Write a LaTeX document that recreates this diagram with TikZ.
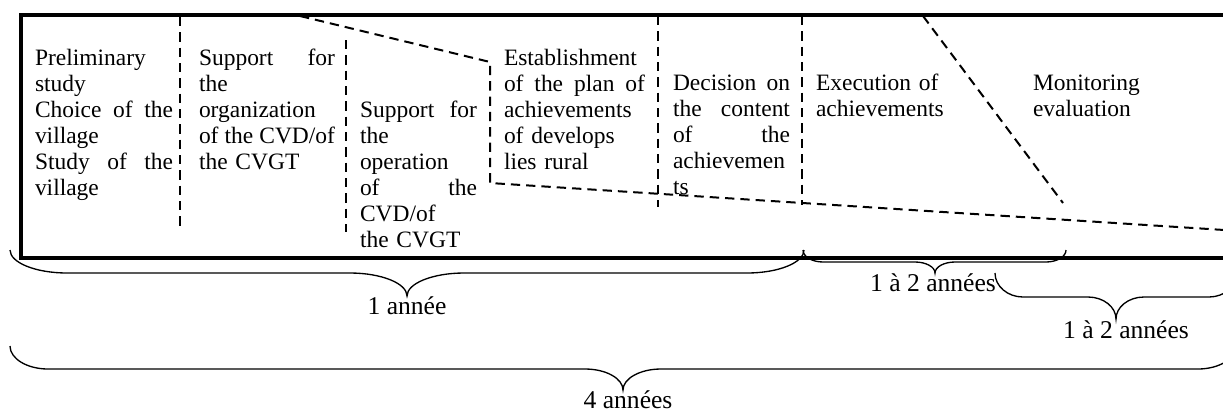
\documentclass[tikz,border=0pt]{standalone}
\usepackage{fontspec}
\setmainfont{Liberation Serif}
\tikzset{
  frame/.style={line width=3.4pt, line join=miter},
  sep/.style={line width=1.5pt, dash pattern=on 7pt off 4.5pt},
  col/.style={font=\fontsize{17.6}{19.5}\selectfont, inner sep=0pt, outer sep=0pt, anchor=base west, align=left},
  lab/.style={font=\fontsize{19.2}{21}\selectfont, inner sep=0pt, anchor=base},
  bracestyle/.style={line width=1pt},
}
\newcommand\js{\nobreak\hfill\nobreak}
% x1 x2 xt ye ym yt r
\newcommand\mybrace[7]{%
  \pgfmathsetmacro\brA{#4+0.55*(#5-#4)}%
  \pgfmathsetmacro\brB{#1+0.45*#7}%
  \pgfmathsetmacro\brC{#1+#7}%
  \pgfmathsetmacro\brD{#3-#7}%
  \pgfmathsetmacro\brE{#3-0.45*#7}%
  \pgfmathsetmacro\brF{#5+0.45*(#6-#5)}%
  \pgfmathsetmacro\brG{#3+0.45*#7}%
  \pgfmathsetmacro\brH{#3+#7}%
  \pgfmathsetmacro\brI{#2-#7}%
  \pgfmathsetmacro\brJ{#2-0.45*#7}%
  \draw[bracestyle] (#1,#4) .. controls (#1,\brA) and (\brB,#5) .. (\brC,#5)
    -- (\brD,#5) .. controls (\brE,#5) and (#3,\brF) .. (#3,#6)
    .. controls (#3,\brF) and (\brG,#5) .. (\brH,#5)
    -- (\brI,#5) .. controls (\brJ,#5) and (#2,\brA) .. (#2,#4);
}
\begin{document}
\begin{tikzpicture}[x=0.75pt,y=-0.75pt]
\useasboundingbox (0,0) rectangle (1223,412);
\clip (0,0) rectangle (1223,412);
% frame
\draw[frame] (1300,15) -- (21,15) -- (21,258) -- (1300,258);
% dashed separators
\draw[sep] (180,17) -- (180,230);
\draw[sep] (346,40) -- (346,232);
\draw[sep] (300,16) -- (490,62) -- (490,183) -- (1240,231);
\draw[sep] (658,16) -- (658,207);
\draw[sep] (802,16) -- (802,205);
\draw[sep] (923,16) -- (1063,203);
% texts
\node[col, text width=103.5pt] (c1) at (35,65) {Preliminary\\study\\Choice\js of\js the\\village\\Study\js of\js the\\village};
\node[col, text width=102pt] (c2) at (199,65) {Support\js for\\the\\organization\\of\js the\js CVD/of\\the CVGT};
\node[col, text width=87.75pt] (c3) at (360,117) {Support\js for\\the\\operation\\of\js the\\CVD/of\\the CVGT};
\node[col, text width=105.75pt] (c4) at (504,65) {Establishment\\of\js the\js plan\js of\\achievements\\of develops\\lies rural};
\node[col, text width=87.75pt] (c5) at (673,90) {Decision\js on\\the\js content\\of\js the\\achievemen\\ts};
\node[col, text width=100pt] (c6) at (816,90) {Execution of\\achievements};
\node[col, text width=100pt] (c7) at (1033,90) {Monitoring\\evaluation};
% braces
\mybrace{10}{804}{407}{250}{273}{296}{57}
\mybrace{803}{1066}{935}{250}{262}{273}{20}
\mybrace{995}{1237}{1116}{273}{297}{319}{28}
\mybrace{10}{1236}{623}{346}{369}{390}{38}
% labels
\node[lab] (l1) at (407,314) {1 année};
\node[lab] (l2) at (933,291) {1 à 2 années};
\node[lab] (l3) at (1126,338) {1 à 2 années};
\node[lab] (l4) at (628,408) {4 années};
\end{tikzpicture}
\end{document}
